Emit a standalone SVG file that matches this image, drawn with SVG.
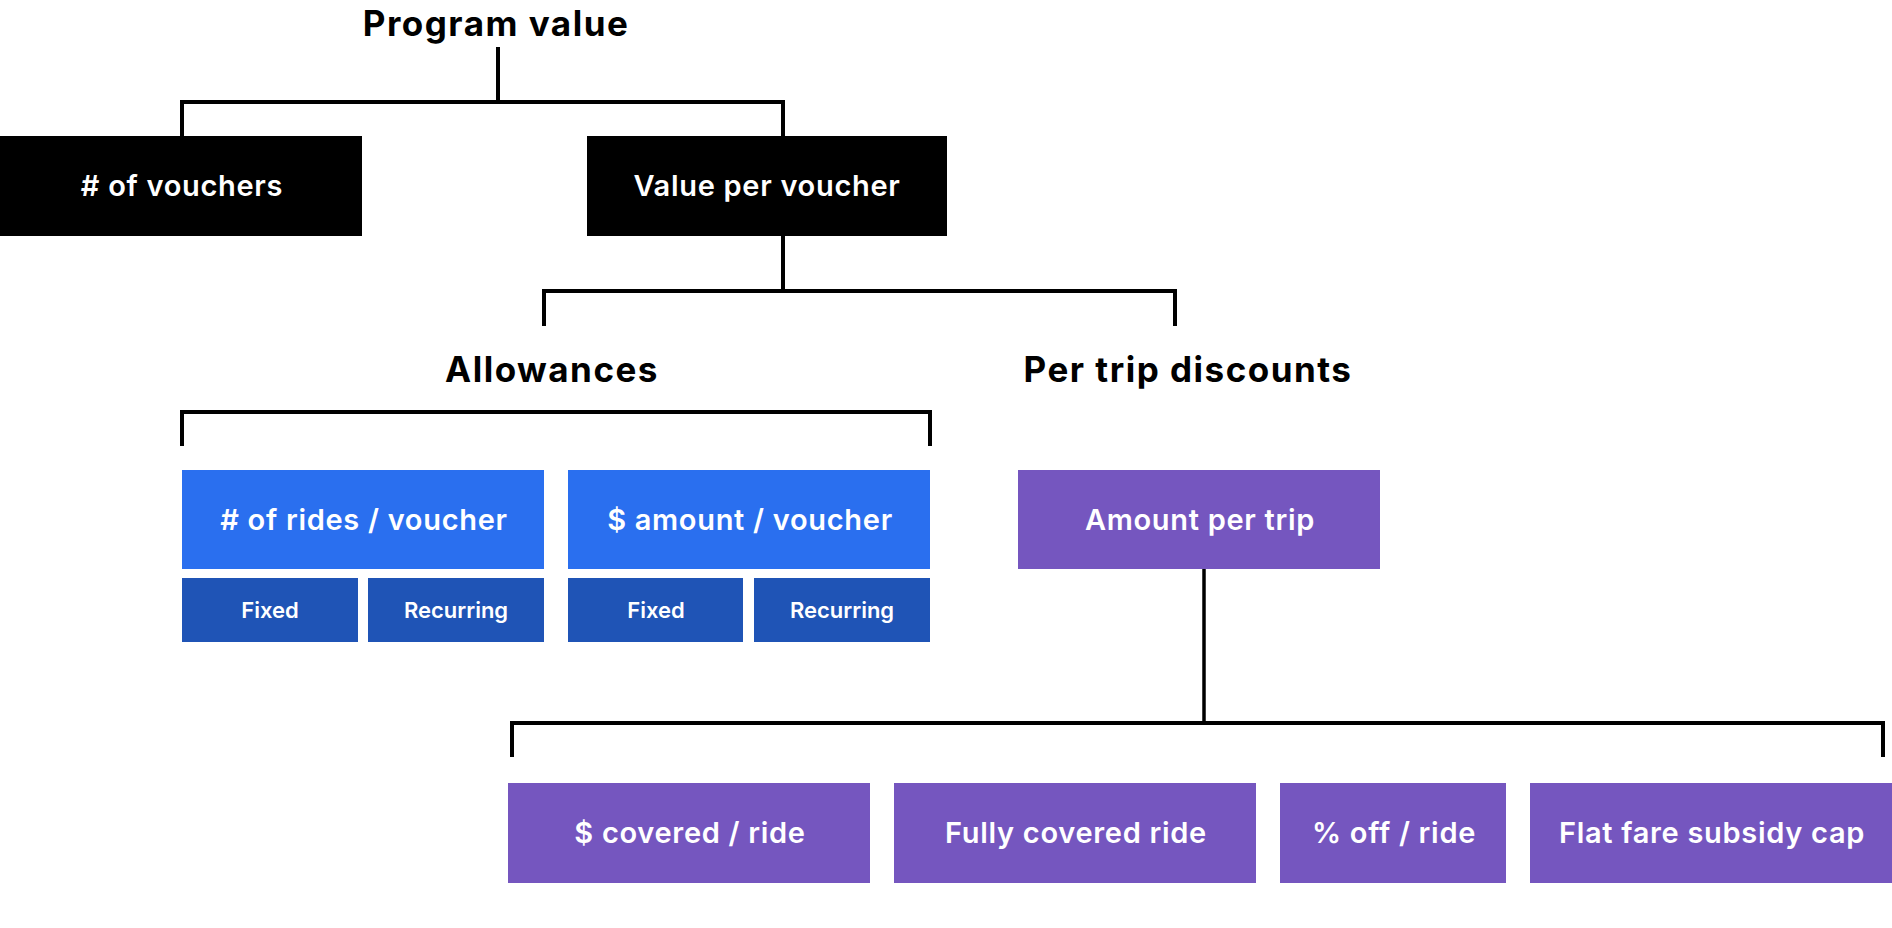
<svg xmlns="http://www.w3.org/2000/svg" width="1892" height="928" viewBox="0 0 1892 928">
<style>
.title{font-family:Inter,"Liberation Sans",sans-serif;font-weight:700;font-size:35px;letter-spacing:1.5px;fill:#000;text-anchor:middle}
.lbl{font-family:Inter,"Liberation Sans",sans-serif;font-weight:600;font-size:29px;letter-spacing:0.7px;fill:#fff;text-anchor:middle}
.sm{font-family:Inter,"Liberation Sans",sans-serif;font-weight:600;font-size:22px;fill:#fff;text-anchor:middle}
.blk{fill:#000}
.blue{fill:#2A6FEF}
.dblue{fill:#1F54B6}
.purple{fill:#7556BF}
.conn{fill:none;stroke:#000;stroke-width:4}
</style>
<rect width="1892" height="928" fill="#fff"/>
<g id="connectors">
<path class="conn" d="M498,47 V102"/>
<path class="conn" d="M182,136 V102 H783 V136"/>
<path class="conn" d="M783,236 V291"/>
<path class="conn" d="M544,326 V291 H1175 V326"/>
<path class="conn" d="M182,446 V412 H930 V446"/>
<path class="conn" d="M1204,569 V723" style="stroke-width:3.5"/>
<path class="conn" d="M512,757 V723 H1883 V757"/>
</g>
<g id="program-value"><text class="title" x="496" y="36">Program value</text></g>
<g id="num-vouchers"><rect class="blk" x="0" y="136" width="362" height="100"/><text class="lbl" x="182" y="196"># of vouchers</text></g>
<g id="value-per-voucher"><rect class="blk" x="587" y="136" width="360" height="100"/><text class="lbl" x="767" y="196">Value per voucher</text></g>
<g id="allowances"><text class="title" x="552" y="382">Allowances</text></g>
<g id="per-trip-discounts"><text class="title" x="1188" y="382">Per trip discounts</text></g>
<g id="rides-per-voucher"><rect class="blue" x="182" y="470" width="362" height="99"/><text class="lbl" x="364" y="530"># of rides / voucher</text></g>
<g id="amount-per-voucher"><rect class="blue" x="568" y="470" width="362" height="99"/><text class="lbl" x="750" y="530">$ amount / voucher</text></g>
<g id="fixed-1"><rect class="dblue" x="182" y="578" width="176" height="64"/><text class="sm" x="270" y="618">Fixed</text></g>
<g id="recurring-1"><rect class="dblue" x="368" y="578" width="176" height="64"/><text class="sm" x="456" y="618">Recurring</text></g>
<g id="fixed-2"><rect class="dblue" x="568" y="578" width="175" height="64"/><text class="sm" x="656" y="618">Fixed</text></g>
<g id="recurring-2"><rect class="dblue" x="754" y="578" width="176" height="64"/><text class="sm" x="842" y="618">Recurring</text></g>
<g id="amount-per-trip"><rect class="purple" x="1018" y="470" width="362" height="99"/><text class="lbl" x="1200" y="530">Amount per trip</text></g>
<g id="covered-per-ride"><rect class="purple" x="508" y="783" width="362" height="100"/><text class="lbl" x="690" y="843">$ covered / ride</text></g>
<g id="fully-covered"><rect class="purple" x="894" y="783" width="362" height="100"/><text class="lbl" x="1076" y="843">Fully covered ride</text></g>
<g id="pct-off"><rect class="purple" x="1280" y="783" width="226" height="100"/><text class="lbl" x="1394" y="843">% off / ride</text></g>
<g id="flat-fare"><rect class="purple" x="1530" y="783" width="362" height="100"/><text class="lbl" x="1712" y="843">Flat fare subsidy cap</text></g>
</svg>
